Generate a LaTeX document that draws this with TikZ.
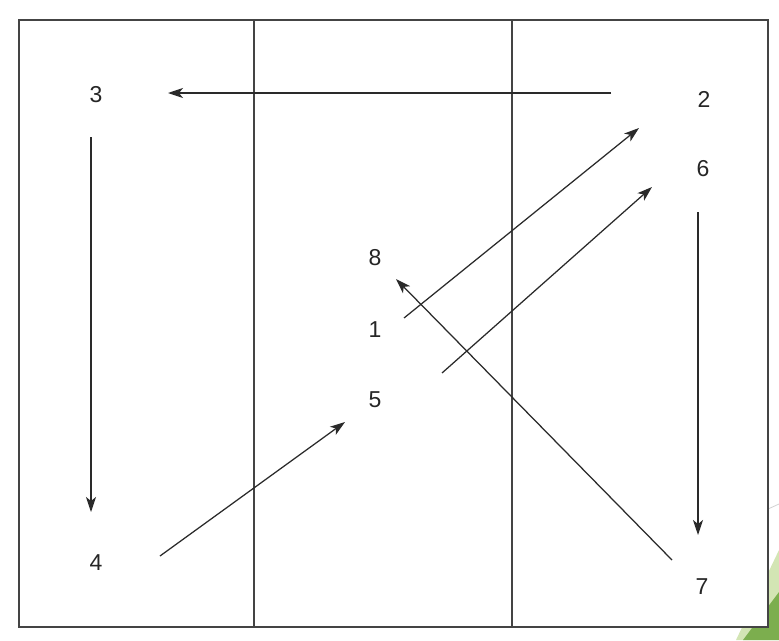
\documentclass[tikz,border=0pt]{standalone}
\usepackage{fontspec}
\setmainfont{Liberation Sans}
\usetikzlibrary{arrows.meta}
\definecolor{linec}{HTML}{2A2A2A}
\definecolor{framec}{HTML}{444444}
\definecolor{lightg}{HTML}{D3E5B4}
\definecolor{darkg}{HTML}{7CAE4E}
\tikzset{
  lbl/.style={inner sep=0pt, font=\fontsize{23}{23}\selectfont, text=black!85},
  arr/.style={draw=linec, line width=1.25pt, -{Stealth[length=15pt,width=10pt,inset=4pt]}},
  divider/.style={draw=framec, line width=1.3pt},
  frame/.style={draw=framec, line width=1.5pt, fill=white}
}
\begin{document}
\begin{tikzpicture}[x=1pt,y=-1pt]
\useasboundingbox (0,0) rectangle (779,640);
% slide decoration
\draw[gray!35, line width=0.8pt] (700,540) -- (779,504);
\fill[lightg] (779,550) -- (736,640) -- (779,640) -- cycle;
\fill[darkg] (743,640) -- (779,592) -- (779,640) -- cycle;
% frame and columns
\draw[frame] (19,20) rectangle (768,627);
\draw[divider] (254,20) -- (254,627);
\draw[divider] (512,20) -- (512,627);
% labels
\node[lbl] (n3) at (96,95) {3};
\node[lbl] (n2) at (704,99) {2};
\node[lbl] (n6) at (703,169) {6};
\node[lbl] (n8) at (375,258) {8};
\node[lbl] (n1) at (375,330) {1};
\node[lbl] (n5) at (375,400) {5};
\node[lbl] (n4) at (96,563) {4};
\node[lbl] (n7) at (702,587) {7};
% arrows
\draw[arr] ([shift={(-93,-6)}]n2.center) -- ([shift={(72,-2)}]n3.center);
\draw[arr] ([shift={(-5,42)}]n3.center) -- ([shift={(-5,-51)}]n4.center);
\draw[arr] ([shift={(64,-7)}]n4.center) -- ([shift={(-30,22)}]n5.center);
\draw[arr] ([shift={(29,-12)}]n1.center) -- ([shift={(-65,29)}]n2.center);
\draw[arr] ([shift={(67,-27)}]n5.center) -- ([shift={(-51,18)}]n6.center);
\draw[arr] ([shift={(-5,43)}]n6.center) -- ([shift={(-4,-52)}]n7.center);
\draw[arr] ([shift={(-30,-27)}]n7.center) -- ([shift={(21,21)}]n8.center);
\end{tikzpicture}
\end{document}
